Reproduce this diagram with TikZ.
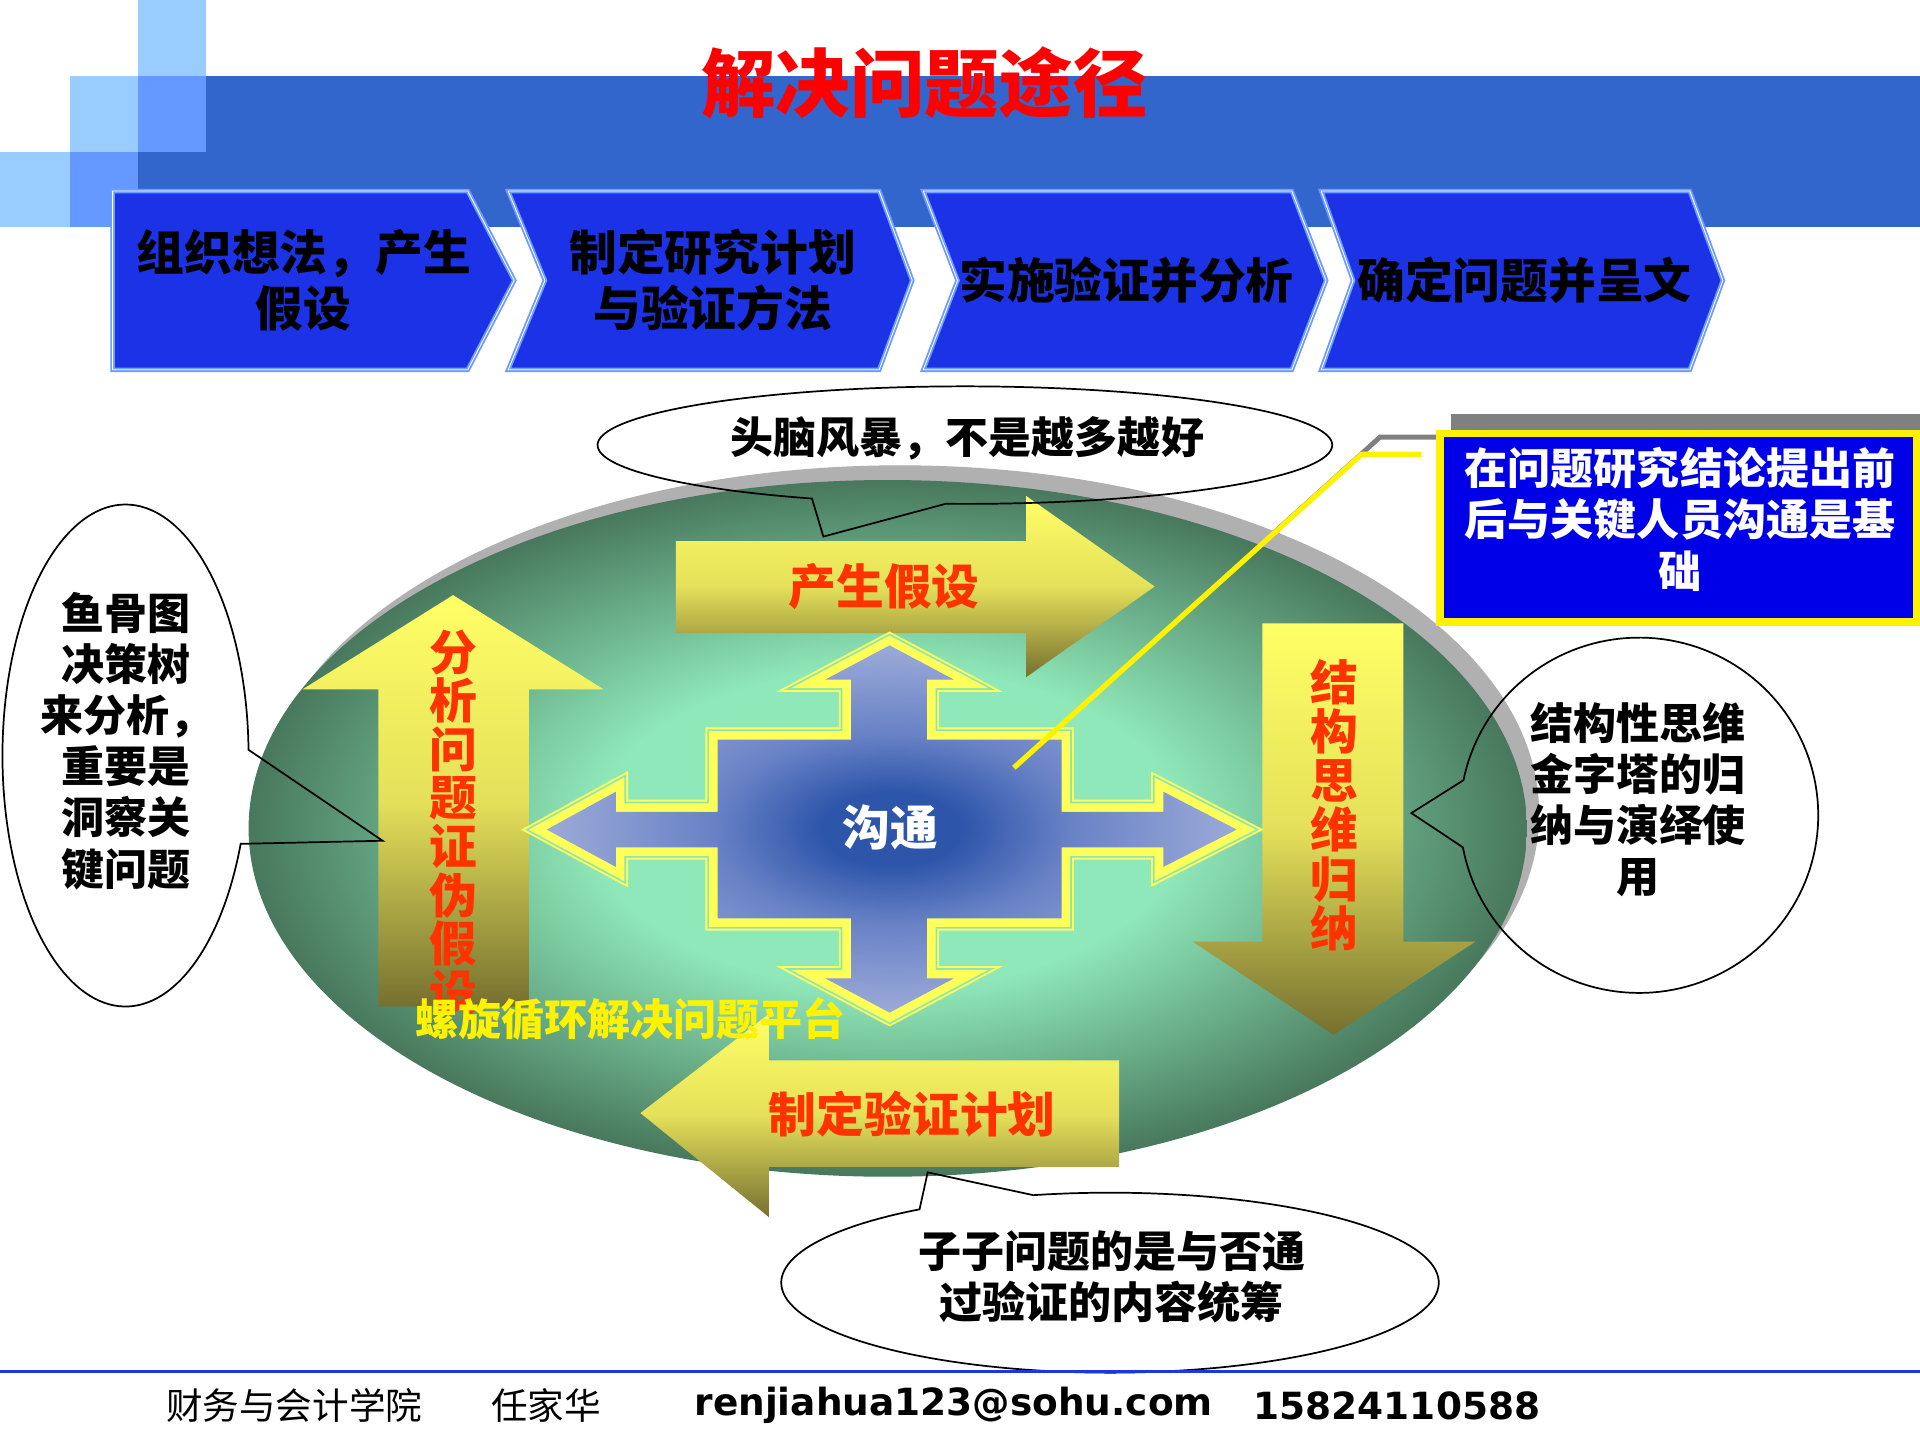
\documentclass[tikz,border=0pt]{standalone}
\usepackage{fontspec}
\usepackage{tikz}
\usetikzlibrary{positioning}
\usetikzlibrary{shapes.geometric}
\setmainfont{Noto Sans CJK SC}
\newfontfamily\latinfont{DejaVu Sans}

\definecolor{bandblue}{RGB}{51,102,204}
\definecolor{paleblue}{RGB}{153,204,255}
\definecolor{midblue}{RGB}{102,153,255}
\definecolor{stepfill}{RGB}{28,50,230}
\definecolor{stepline}{RGB}{110,155,255}
\definecolor{ovalin}{RGB}{143,232,185}
\definecolor{ovalout}{RGB}{72,120,93}
\definecolor{ovalshade}{RGB}{176,176,176}
\definecolor{crossin}{RGB}{45,85,170}
\definecolor{crossmid}{RGB}{105,130,198}
\definecolor{crossout}{RGB}{155,170,216}
\definecolor{crossline}{RGB}{255,255,90}
\definecolor{crossgap}{RGB}{140,228,182}
\definecolor{arrowtop}{RGB}{255,255,102}
\definecolor{arrowmid}{RGB}{228,224,90}
\definecolor{arrowbot}{RGB}{118,112,48}
\definecolor{labelred}{RGB}{255,51,0}
\definecolor{noteblue}{RGB}{0,0,232}
\definecolor{footblue}{RGB}{30,55,220}

\pgfdeclareradialshading{ovalglow}{\pgfpoint{0bp}{0bp}}{color(0bp)=(ovalin); color(11.5bp)=(ovalin); color(25bp)=(ovalout); color(36bp)=(ovalout)}
\pgfdeclareradialshading{crossglow}{\pgfpoint{0bp}{0bp}}{color(0bp)=(crossin); color(5bp)=(crossin); color(13bp)=(crossmid); color(25bp)=(crossout); color(36bp)=(crossout)}

\tikzstyle{stepbox}=[fill=stepfill,draw=stepline,line width=0.15mm,double=white,double distance=0.07mm]
\tikzstyle{steptext}=[font=\bfseries\fontsize{11.1}{13.1}\selectfont,align=center,inner sep=0pt]
\tikzstyle{bigarrow}=[top color=arrowtop,bottom color=arrowbot,middle color=arrowmid]
\tikzstyle{arrowlabel}=[text=labelred,font=\bfseries\fontsize{11.1}{11.3}\selectfont,align=center,inner sep=0pt]
\tikzstyle{bubble}=[draw=black,line width=0.4pt]
\tikzstyle{bubbletext}=[font=\bfseries\fontsize{10}{11.9}\selectfont,align=center,inner sep=0pt]
\tikzstyle{notebox}=[rectangle,draw=yellow,fill=noteblue,line width=0.6mm,minimum width=38.9mm,minimum height=15.4mm,inner sep=0pt]
\tikzstyle{foottext}=[font=\fontsize{8.5}{9}\selectfont,inner sep=0pt]
\newcommand{\CrossPath}{(726.5,527) -- (779,555) -- (757,555) -- (757,604) -- (867,604) -- (867,663) -- (950,663) -- (950,646.5)
	-- (1010,677.5) -- (950,708) -- (950,692) -- (867,692) -- (867,750) -- (757,750) -- (757,799) -- (779,799)
	-- (726.5,827) -- (674,799) -- (695,799) -- (695,750) -- (586,750) -- (586,692) -- (503,692) -- (503,708)
	-- (446.5,677.5) -- (503,646.5) -- (503,663) -- (586,663) -- (586,604) -- (695,604) -- (695,555) -- (674,555) -- cycle}

\begin{document}
\begin{tikzpicture}
	[x=0.1mm,y=-0.1mm,font=\bfseries]
	\tikzstyle{noteline}=[draw=yellow,line width=0.43mm];
	\tikzstyle{noteshade}=[draw=gray,line width=0.4mm];
	\useasboundingbox (0,0) rectangle (1568,1176);
	\fill[white] (0,0) rectangle (1568,1176);

	% header band
	\fill[bandblue] (113,62) rectangle (1568,185);
	\fill[paleblue] (113,0) rectangle (168,62);
	\fill[paleblue] (57,62) rectangle (113,124);
	\fill[midblue] (113,62) rectangle (168,124);
	\fill[paleblue] (0,124) rectangle (57,185);
	\fill[midblue] (57,124) rectangle (113,185);
	\node (title) at (755,68) [text=red,font=\bfseries\fontsize{17.3}{18}\selectfont] {解决问题途径};

	% steps
	\draw[stepbox] (92,156) -- (382,156) -- (420,229) -- (382,302) -- (92,302) -- cycle;
	\draw[stepbox] (415,156) -- (718,156) -- (745,229) -- (718,302) -- (415,302) -- (445,229) -- cycle;
	\draw[stepbox] (754,156) -- (1055,156) -- (1083,229) -- (1055,302) -- (754,302) -- (782,229) -- cycle;
	\draw[stepbox] (1079,156) -- (1380,156) -- (1407,229) -- (1380,302) -- (1079,302) -- (1105,229) -- cycle;
	\node (step1) [steptext] at (248,229) {组织想法，产生\\假设};
	\node (step2) [steptext] at (582,229) {制定研究计划\\与验证方法};
	\node (step3) [steptext] at (920,229) {实施验证并分析};
	\node (step4) [steptext] at (1245,229) {确定问题并呈文};

	\coordinate (talk) at (828,627);
	\coordinate (knee) at (1112,371);
	\coordinate (talkend) at (1161,371);
	\draw[noteshade] ([shift={(15,-14)}]talk) -- ([shift={(15,-14)}]knee) -- (1176,357);

	% platform
	\node (stageshade) [ellipse,fill=ovalshade,minimum width=104.4mm,minimum height=56.9mm,inner sep=0pt] at (735,664.5) {};
	\node (stage) [ellipse,shading=ovalglow,shade,minimum width=104.4mm,minimum height=56.9mm,inner sep=0pt] at (725,676.5) {};

	\shade[bigarrow] (552,442) -- (838,442) -- (838,405) -- (943,479) -- (838,553) -- (838,517) -- (552,517) -- cycle;
	\shade[bigarrow] (309,822) -- (309,563) -- (247,563) -- (370,486) -- (493,563) -- (432,563) -- (432,822) -- cycle;
	\shade[bigarrow] (1031,509) -- (1146,509) -- (1146,769) -- (1205,769) -- (1089,845) -- (974,769) -- (1031,769) -- cycle;
	\shade[bigarrow] (914,866) -- (914,953) -- (628,953) -- (628,994) -- (523,909) -- (628,828) -- (628,866) -- cycle;
	\node (hypo) [arrowlabel] at (722,479) {产生假设};
	\node (falsify) [arrowlabel] at (370,671.5) {分\\析\\问\\题\\证\\伪\\假\\设};
	\node (induce) [arrowlabel,font=\bfseries\fontsize{11.1}{11.4}\selectfont] at (1090,657.5) {结\\构\\思\\维\\归\\纳};
	\node (plan) [arrowlabel] at (745,910) {制定验证计划};

	% communication cross
	\draw[crossline,line width=2mm] \CrossPath;
	\draw[crossgap,line width=1.68mm] \CrossPath;
	\draw[crossline,line width=1.4mm] \CrossPath;
	\shade[shading=crossglow] \CrossPath;
	\node (talktext) [text=white,font=\bfseries\fontsize{11.1}{12}\selectfont] at (727,676) {沟通};
	\node (spiral) [text=yellow,font=\bfseries\fontsize{10}{11}\selectfont] at (515,832) {螺旋循环解决问题平台};

	% note box
	\draw[noteline] (talk) -- (knee) -- (talkend);
	\fill[gray] (1185,338) rectangle (1568,357);
	\node (note) [notebox] at (1370.5,431) {};
	\node (notetext) [text=white,font=\bfseries\fontsize{10}{11.95}\selectfont,align=center] at (1372,424) {在问题研究结论提出前\\后与关键人员沟通是基\\础};

	% callouts
	\coordinate (ideatip) at (672.4,438.2);
	\coordinate (fishtip) at (312.5,686.6);
	\coordinate (pyramidtip) at (1152.6,664);
	\coordinate (subqtip) at (757.6,957.4);
	\draw[bubble] (ideatip) -- plot[domain=114.6:453,samples=150] ({788+300*cos(\x)},{363.5+48*sin(\x)}) -- cycle;
	\draw[bubble] (fishtip) -- plot[domain=20.6:358.7,samples=150] ({102.5+100.5*cos(\x)},{617+205*sin(\x)}) -- cycle;
	\draw[bubble] (pyramidtip) -- plot[domain=191.4:529.6,samples=150] ({1338.6+146.3*cos(\x)},{665.8+145.1*sin(\x)}) -- cycle;
	\draw[bubble] (subqtip) -- plot[domain=256.5:594.6,samples=150] ({906.5+268.5*cos(\x)},{1047.5+73.5*sin(\x)}) -- cycle;
	\node (idea) [bubbletext] at (790,358) {头脑风暴，不是越多越好};
	\node (fishbone) [bubbletext] at (103,605) {鱼骨图\\决策树\\来分析，\\重要是\\洞察关\\键问题};
	\node (pyramid) [bubbletext] at (1338,653) {结构性思维\\金字塔的归\\纳与演绎使\\用};
	\node (subq) [bubbletext] at (908,1042.5) {子子问题的是与否通\\过验证的内容统筹};

	% footer
	\draw[footblue,line width=0.2mm] (0,1120) -- (1568,1120);
	\node (dept) [foottext,anchor=west,font=\mdseries\fontsize{8.5}{9}\selectfont] at (135,1148) {财务与会计学院};
	\node (author) [foottext,right=5.5mm of dept,font=\mdseries\fontsize{8.5}{9}\selectfont] {任家华};
	\node (mail) [foottext,right=7.5mm of author,font=\latinfont\bfseries\fontsize{8.7}{9}\selectfont] {renjiahua123@sohu.com};
	\node (phone) [foottext,right=3.2mm of mail,font=\latinfont\bfseries\fontsize{8.7}{9}\selectfont] {15824110588};
\end{tikzpicture}
\end{document}
